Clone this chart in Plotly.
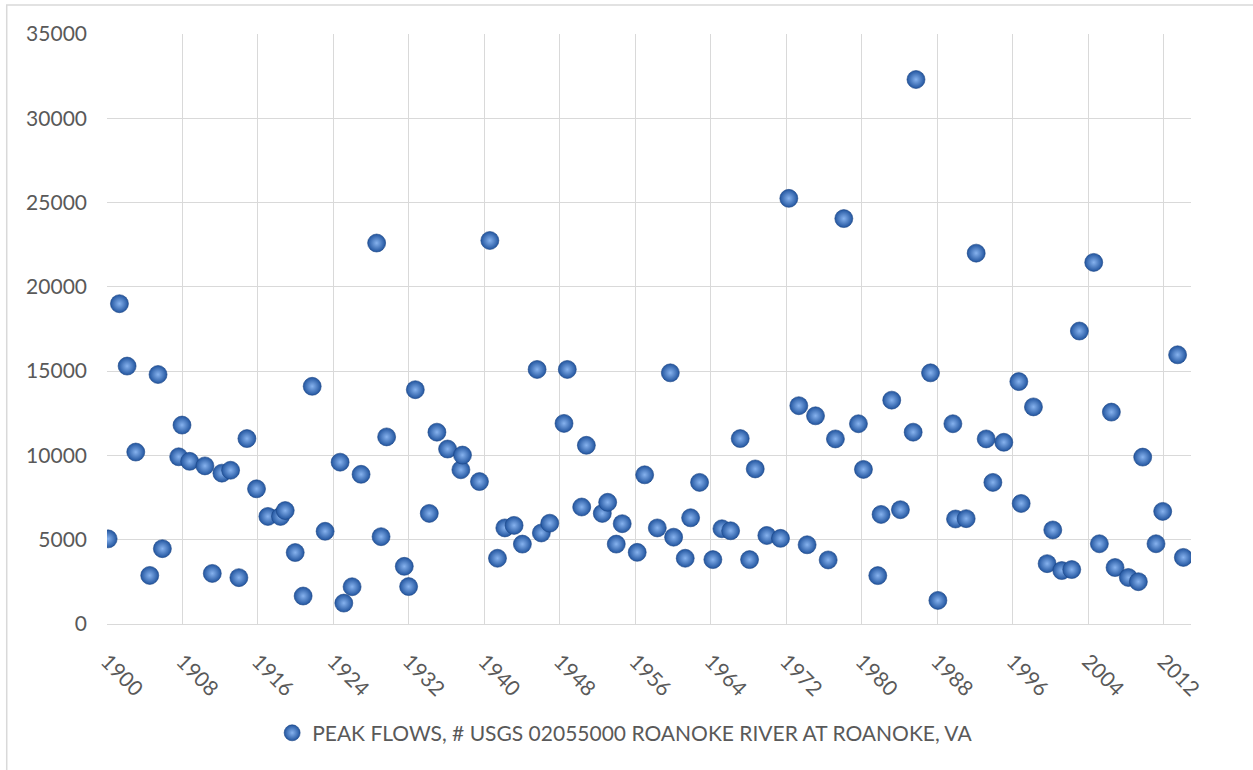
import plotly.graph_objects as go

# Annual peak flows (cfs), USGS 02055000 Roanoke River at Roanoke, VA.
# Dates are expressed as decimal years so each peak sits at its date within the year.
peak_year = [
    1900.12, 1901.32, 1902.13, 1903.05, 1904.53, 1905.41, 1905.87, 1907.60, 1907.95, 1908.76,
    1910.38, 1911.16, 1912.18, 1913.10, 1913.98, 1914.83, 1915.85, 1917.05, 1918.39, 1918.89,
    1919.95, 1920.79, 1921.75, 1923.12, 1924.71, 1925.10, 1925.98, 1926.93, 1928.58, 1929.05,
    1929.64, 1931.51, 1931.97, 1932.68, 1934.16, 1934.97, 1936.10, 1937.51, 1937.68, 1939.48,
    1940.58, 1941.39, 1942.17, 1943.15, 1944.03, 1945.59, 1946.04, 1946.93, 1948.44, 1948.79,
    1950.32, 1950.81, 1952.50, 1953.07, 1953.98, 1954.61, 1956.20, 1956.99, 1958.33, 1959.71,
    1960.06, 1961.29, 1961.86, 1962.81, 1964.22, 1965.18, 1966.10, 1967.12, 1968.11, 1968.71,
    1969.94, 1971.39, 1972.27, 1973.33, 1974.21, 1975.10, 1976.44, 1977.21, 1978.10, 1979.65,
    1980.18, 1981.70, 1982.05, 1983.18, 1984.10, 1985.45, 1985.75, 1987.29, 1988.07, 1989.66,
    1989.94, 1991.07, 1992.13, 1993.19, 1993.90, 1995.06, 1996.65, 1996.90, 1998.20, 1999.65,
    2000.25, 2001.20, 2002.26, 2003.07, 2004.59, 2005.19, 2006.46, 2006.85, 2008.26, 2009.32,
    2009.78, 2011.19, 2011.90, 2013.48, 2014.09,
]
peak_flow = [
    5050, 19000, 15300, 10200, 2880, 14800, 4470, 9920, 11800, 9650,
    9380, 3000, 8950, 9120, 2750, 11000, 8020, 6380, 6380, 6730,
    4240, 1660, 14100, 5500, 9600, 1240, 2210, 8880, 22600, 5180,
    11100, 3420, 2220, 13900, 6560, 11380, 10380, 9150, 10020, 8450,
    22750, 3900, 5700, 5850, 4740, 15100, 5400, 5980, 11900, 15100,
    6940, 10600, 6560, 7220, 4740, 5950, 4250, 8850, 5700, 14900,
    5150, 3900, 6300, 8400, 3820, 5650, 5530, 11000, 3820, 9200,
    5250, 5080, 25250, 12950, 4700, 12350, 3800, 10980, 24050, 11880,
    9170, 2870, 6500, 13280, 6780, 11380, 32300, 14900, 1400, 11880,
    6230, 6250, 22000, 10980, 8400, 10780, 14380, 7150, 12880, 3580,
    5580, 3170, 3230, 17380, 21450, 4760, 12570, 3350, 2760, 2510,
    9900, 4760, 6680, 15970, 3950,
]
series_name = "PEAK FLOWS, # USGS 02055000 ROANOKE RIVER AT ROANOKE, VA"

FONT = "Lato, 'Open Sans', sans-serif"
TEXT_GRAY = "#595959"
GRID = "#D9D9D9"

fig = go.Figure()
fig.add_trace(go.Scatter(
    x=peak_year,
    y=peak_flow,
    mode="markers",
    name=series_name,
    marker=dict(
        size=18,
        color="#22559F",
        gradient=dict(type="radial", color="#86B2EE"),
        line=dict(width=0.6, color="#1B4584"),
    ),
))

fig.update_layout(
    width=1253,
    height=770,
    margin=dict(l=107, r=62, t=34, b=146),
    paper_bgcolor="white",
    plot_bgcolor="white",
    font=dict(family=FONT, size=21, color=TEXT_GRAY),
    showlegend=True,
    legend=dict(
        orientation="h",
        x=0.478,
        xanchor="center",
        y=-0.185,
        yanchor="middle",
        font=dict(family=FONT, size=21, color=TEXT_GRAY),
        itemsizing="trace",
        itemwidth=30,
    ),
    xaxis=dict(
        range=[1900, 2014.9],
        tick0=1900,
        dtick=8,
        tickformat="d",
        tickangle=45,
        showgrid=True,
        gridcolor=GRID,
        gridwidth=1,
        showline=True,
        linecolor=GRID,
        linewidth=1,
        zeroline=False,
        ticks="",
        ticklabelstandoff=16,
        tickfont=dict(family=FONT, size=21, color=TEXT_GRAY),
    ),
    yaxis=dict(
        range=[0, 35000],
        tick0=0,
        dtick=5000,
        tickformat="d",
        showgrid=True,
        gridcolor=GRID,
        gridwidth=1,
        showline=False,
        zeroline=False,
        ticks="",
        ticklabelstandoff=19,
        tickfont=dict(family=FONT, size=21, color=TEXT_GRAY),
    ),
    shapes=[
        # chart-area border (left and top edges fall inside the page)
        dict(
            type="rect", xref="paper", yref="paper",
            x0=-0.0925, x1=1.2, y0=-0.5, y1=1.049,
            line=dict(color=GRID, width=1.5),
            fillcolor="rgba(0,0,0,0)",
            layer="below",
        ),
    ],
)

fig.write_html("out.html")
